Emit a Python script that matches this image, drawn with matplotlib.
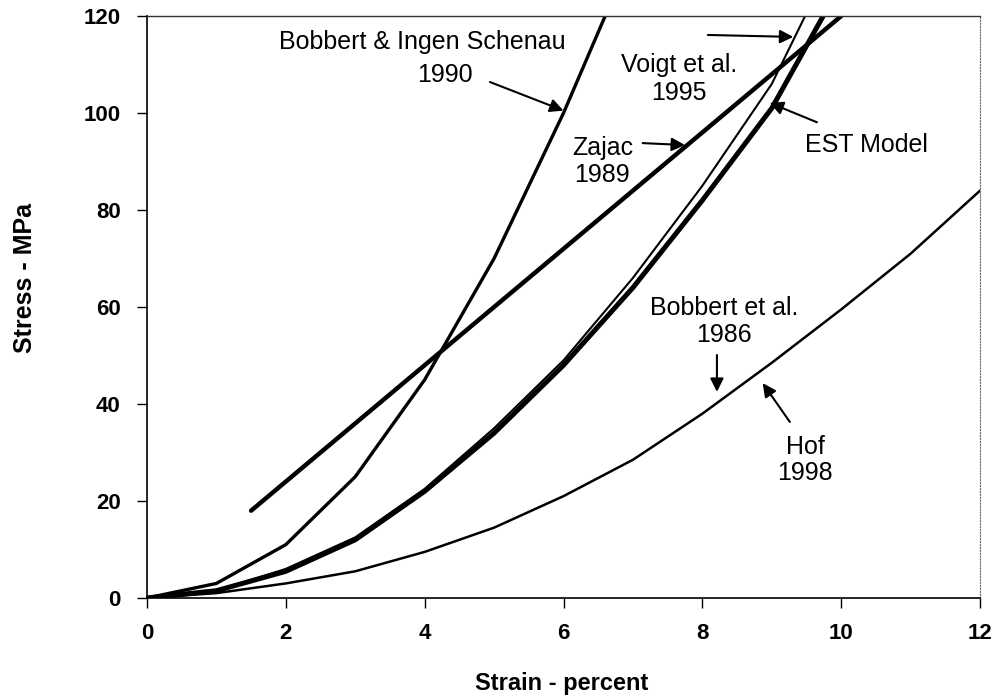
#!/usr/bin/env python3
# Tendon stress-strain curves from several models
import matplotlib.pyplot as plt

plt.rcParams['font.family'] = ['Liberation Sans', 'DejaVu Sans']

# strain (percent) / stress (MPa) for each curve
bobbert90_x = [0, 1, 2, 3, 4, 5, 6, 6.6]
bobbert90_y = [0, 3, 11, 25, 45, 70, 100, 120]

zajac_x = [1.5, 10.0]
zajac_y = [18, 120]

voigt_x = [0, 1, 2, 3, 4, 5, 6, 7, 8, 9, 9.48]
voigt_y = [0, 1.5, 6, 12.5, 22.5, 35, 49, 66, 85, 106, 120]

est_x = [0, 1, 2, 3, 4, 5, 6, 7, 8, 9, 9.74]
est_y = [0, 1.5, 5.5, 12, 22, 34, 48, 64, 82, 101, 120]

hof_x = [0, 1, 2, 3, 4, 5, 6, 7, 8, 9, 10, 11, 12]
hof_y = [0, 1, 3, 5.5, 9.5, 14.5, 21, 28.5, 38, 48.5, 59.5, 71, 84]

xticks = [0, 2, 4, 6, 8, 10, 12]
yticks = [0, 20, 40, 60, 80, 100, 120]

fig = plt.figure(figsize=(9.97, 6.98), dpi=100)
ax = fig.add_axes([0.1474, 0.1433, 0.8356, 0.8337])

ax.plot(bobbert90_x, bobbert90_y, color='black', lw=2.4, solid_capstyle='round')
ax.plot(zajac_x, zajac_y, color='black', lw=3.2, solid_capstyle='round')
ax.plot(voigt_x, voigt_y, color='black', lw=1.5)
ax.plot(est_x, est_y, color='black', lw=3.6)
ax.plot(hof_x, hof_y, color='black', lw=1.8)

ax.set_xlim(0, 12)
ax.set_ylim(0, 120)
ax.set_xticks(xticks)
ax.set_yticks(yticks)
ax.tick_params(direction='out', length=7, width=1, labelsize=16)
ax.tick_params(axis='x', pad=11)
ax.tick_params(axis='y', pad=12)
for lab in ax.get_xticklabels() + ax.get_yticklabels():
    lab.set_fontweight('bold')

ax.spines['left'].set_linewidth(1.2)
ax.spines['bottom'].set_linewidth(1.2)
ax.spines['top'].set_linewidth(1.0)
ax.spines['top'].set_color('#333333')
ax.spines['right'].set_linestyle(':')
ax.spines['right'].set_color('#666666')

ax.set_xlabel('Strain - percent', fontsize=17, fontweight='bold')
ax.set_ylabel('Stress - MPa', fontsize=18, fontweight='bold')
ax.xaxis.set_label_coords(0.498, -0.128)
ax.yaxis.set_label_coords(-0.132, 0.55)

arw = dict(arrowstyle='-|>', mutation_scale=20, lw=1.5, color='black',
           shrinkA=0, shrinkB=0)
fs = 18

ax.text(3.96, 114.6, 'Bobbert & Ingen Schenau', fontsize=fs, ha='center', va='center')
ax.text(4.29, 107.8, '1990', fontsize=fs, ha='center', va='center')
ax.annotate('', xy=(6.0, 100.5), xytext=(4.94, 106.4), arrowprops=arw)

ax.text(7.66, 107.1, 'Voigt et al.\n1995', fontsize=fs, ha='center', va='center',
        linespacing=1.2)
ax.annotate('', xy=(9.31, 115.7), xytext=(8.08, 116.1), arrowprops=arw)

ax.text(6.56, 90.0, 'Zajac\n1989', fontsize=fs, ha='center', va='center',
        linespacing=1.2)
ax.annotate('', xy=(7.75, 93.4), xytext=(7.14, 93.8), arrowprops=arw)

ax.text(10.37, 93.4, 'EST Model', fontsize=fs, ha='center', va='center')
ax.annotate('', xy=(8.97, 102.1), xytext=(9.65, 98.1), arrowprops=arw)

ax.text(8.31, 57.0, 'Bobbert et al.\n1986', fontsize=fs, ha='center', va='center',
        linespacing=1.2)
ax.annotate('', xy=(8.21, 42.5), xytext=(8.21, 50.1), arrowprops=arw)

ax.text(9.48, 28.5, 'Hof\n1998', fontsize=fs, ha='center', va='center',
        linespacing=1.1)
ax.annotate('', xy=(8.87, 44.3), xytext=(9.26, 36.3), arrowprops=arw)

fig.savefig('out.png', dpi=100)
